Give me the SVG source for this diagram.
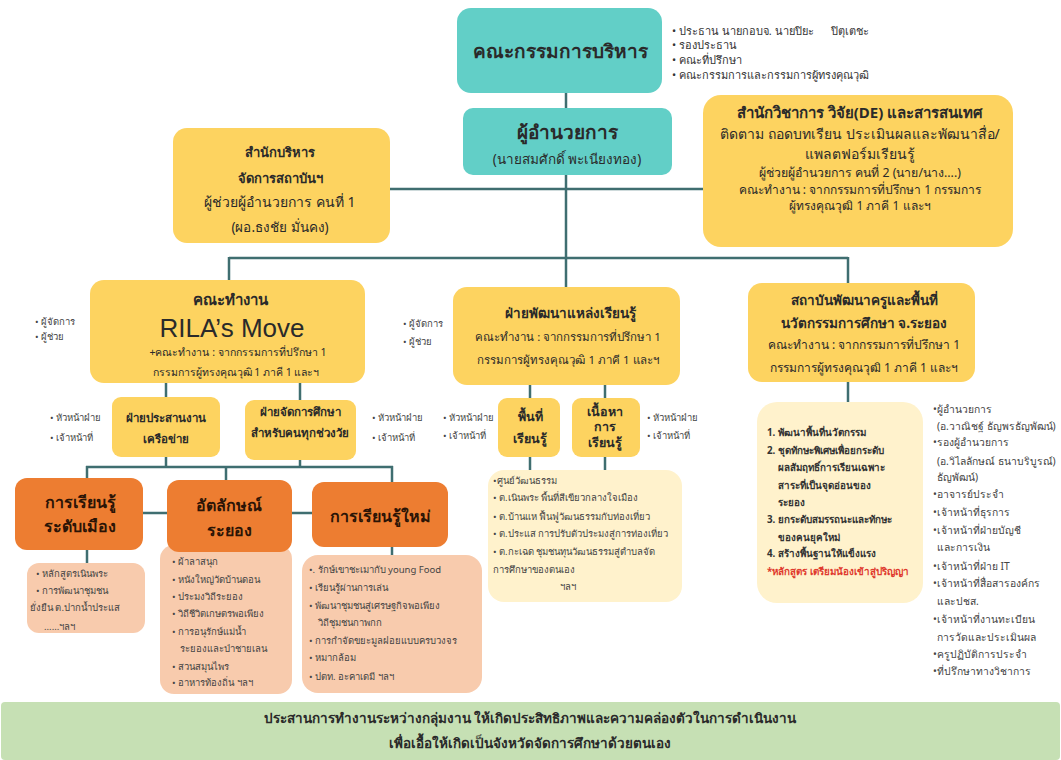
<svg xmlns="http://www.w3.org/2000/svg" width="1061" height="760" viewBox="0 0 1061 760">
<style>
text{font-family:"Noto Sans","DejaVu Sans",sans-serif;fill:#2a2a2a}
.c{text-anchor:middle}
.b{font-weight:bold}
.teal{fill:#62cfc7}
.yel{fill:#fdd360}
.org{fill:#ed7d31}
.peach{fill:#f8cbad}
.cream{fill:#fff2cc}
.sm{font-size:9.5px;fill:#444}
.st{font-size:10.3px;fill:#444}
.bl{font-size:11px;fill:#333}
.pl{font-size:9.8px;font-weight:bold;fill:#333}
.ot{font-size:16px;font-weight:bold;fill:#2b1406}
.red{fill:#e03a2e}
#connectors line{stroke:#3f6e70;stroke-width:2.5}
</style>
<rect width="1061" height="760" fill="#ffffff"/>
<g id="connectors">
<line x1="566" y1="92" x2="566" y2="109"/>
<line x1="566" y1="174" x2="566" y2="258"/>
<line x1="389" y1="189" x2="704" y2="189"/>
<line x1="229" y1="258" x2="848" y2="258"/>
<line x1="229" y1="257" x2="229" y2="281"/>
<line x1="566" y1="257" x2="566" y2="288"/>
<line x1="848" y1="257" x2="848" y2="284"/>
<line x1="166" y1="382" x2="166" y2="398"/>
<line x1="300" y1="382" x2="300" y2="401"/>
<line x1="530" y1="384" x2="530" y2="399"/>
<line x1="605" y1="384" x2="605" y2="399"/>
<line x1="848" y1="381" x2="848" y2="403"/>
<line x1="166" y1="456" x2="166" y2="467"/>
<line x1="300" y1="459" x2="300" y2="467"/>
<line x1="86" y1="467" x2="393" y2="467"/>
<line x1="87" y1="466" x2="87" y2="480"/>
<line x1="226" y1="466" x2="226" y2="482"/>
<line x1="392" y1="466" x2="392" y2="483"/>
<line x1="140" y1="513" x2="315" y2="513"/>
<line x1="87" y1="548" x2="87" y2="565"/>
<line x1="226" y1="550" x2="226" y2="556"/>
<line x1="392" y1="546" x2="392" y2="557"/>
<line x1="530" y1="456" x2="530" y2="472"/>
<line x1="605" y1="456" x2="605" y2="472"/>
</g>

<g id="board">
<rect class="teal" x="457" y="8" width="205" height="85" rx="14"/>
<text class="c b" x="560" y="58" font-size="19">คณะกรรมการบริหาร</text>
<text x="672" y="35" class="bl">• ประธาน นายกอบจ. นายปิยะ&#160;&#160;&#160;&#160;&#160;&#160;ปิตุเตชะ</text>
<text x="672" y="49" class="bl">• รองประธาน</text>
<text x="672" y="64" class="bl">• คณะที่ปรึกษา</text>
<text x="672" y="79" class="bl">• คณะกรรมการและกรรมการผู้ทรงคุณวุฒิ</text>
</g>

<g id="director">
<rect class="teal" x="463" y="108" width="209" height="67" rx="10"/>
<text class="c b" x="567" y="139" font-size="19">ผู้อำนวยการ</text>
<text class="c" x="567" y="164" font-size="13.5">(นายสมศักดิ์ พะเนียงทอง)</text>
</g>

<g id="admin-office">
<rect class="yel" x="173" y="128" width="217" height="115" rx="14"/>
<text class="c b" x="280" y="157" font-size="13">สำนักบริหาร</text>
<text class="c b" x="280" y="183" font-size="13">จัดการสถาบันฯ</text>
<text class="c" x="280" y="207" font-size="14">ผู้ช่วยผู้อำนวยการ คนที่ 1</text>
<text class="c" x="280" y="232" font-size="13.5">(ผอ.ธงชัย มั่นคง)</text>
</g>

<g id="academic-office">
<rect class="yel" x="703" y="95" width="310" height="152" rx="18"/>
<text class="c b" x="860" y="118" font-size="15">สำนักวิชาการ วิจัย(DE) และสารสนเทศ</text>
<text class="c" x="860" y="139" font-size="14">ติดตาม ถอดบทเรียน ประเมินผลและพัฒนาสื่อ/</text>
<text class="c" x="860" y="159" font-size="14">แพลตฟอร์มเรียนรู้</text>
<text class="c" x="860" y="177" font-size="12.3">ผู้ช่วยผู้อำนวยการ คนที่ 2 (นาย/นาง....)</text>
<text class="c" x="860" y="194" font-size="12">คณะทำงาน : จากกรรมการที่ปรึกษา 1 กรรมการ</text>
<text class="c" x="860" y="210" font-size="12">ผู้ทรงคุณวุฒิ 1 ภาคี 1 และฯ</text>
</g>

<g id="rila">
<rect class="yel" x="90" y="280" width="275" height="103" rx="14"/>
<text class="c b" x="230" y="305" font-size="15">คณะทำงาน</text>
<text class="c" x="232" y="337" font-size="26" style="font-family:'Liberation Sans',Arial,sans-serif">RILA’s Move</text>
<text class="c" x="238" y="356" font-size="10.5">+คณะทำงาน : จากกรรมการที่ปรึกษา 1</text>
<text class="c" x="236" y="376" font-size="10.5">กรรมการผู้ทรงคุณวุฒิ 1 ภาคี 1 และฯ</text>
<text class="sm" x="35" y="325">• ผู้จัดการ</text>
<text class="sm" x="35" y="340">• ผู้ช่วย</text>
</g>

<g id="learning-source">
<rect class="yel" x="453" y="287" width="227" height="98" rx="14"/>
<text class="c b" x="570" y="318" font-size="13.5">ฝ่ายพัฒนาแหล่งเรียนรู้</text>
<text class="c" x="568" y="341" font-size="11.5">คณะทำงาน : จากกรรมการที่ปรึกษา 1</text>
<text class="c" x="568" y="364" font-size="11.5">กรรมการผู้ทรงคุณวุฒิ 1 ภาคี 1 และฯ</text>
<text class="sm" x="403" y="327">• ผู้จัดการ</text>
<text class="sm" x="403" y="345">• ผู้ช่วย</text>
</g>

<g id="institute">
<rect class="yel" x="748" y="283" width="227" height="99" rx="14"/>
<text class="c b" x="864" y="305" font-size="13.5">สถาบันพัฒนาครูและพื้นที่</text>
<text class="c b" x="864" y="328" font-size="13.5">นวัตกรรมการศึกษา จ.ระยอง</text>
<text class="c" x="864" y="349" font-size="12">คณะทำงาน : จากกรรมการที่ปรึกษา 1</text>
<text class="c" x="864" y="372" font-size="12">กรรมการผู้ทรงคุณวุฒิ 1 ภาคี 1 และฯ</text>
</g>

<g id="network">
<rect class="yel" x="112" y="397" width="108" height="60" rx="9"/>
<text class="c b" x="166" y="422" font-size="11.5">ฝ่ายประสานงาน</text>
<text class="c b" x="166" y="443" font-size="11.5">เครือข่าย</text>
<text class="sm" x="50" y="421">• หัวหน้าฝ่าย</text>
<text class="sm" x="50" y="441">• เจ้าหน้าที่</text>
</g>

<g id="education">
<rect class="yel" x="245" y="400" width="111" height="60" rx="9"/>
<text class="c b" x="300" y="416" font-size="11.5">ฝ่ายจัดการศึกษา</text>
<text class="c b" x="300" y="437" font-size="11.5">สำหรับคนทุกช่วงวัย</text>
<text class="sm" x="372" y="421">• หัวหน้าฝ่าย</text>
<text class="sm" x="372" y="441">• เจ้าหน้าที่</text>
</g>

<g id="area">
<rect class="yel" x="498" y="398" width="62" height="59" rx="9"/>
<text class="c b" x="530" y="421" font-size="12.5">พื้นที่</text>
<text class="c b" x="530" y="443" font-size="12.5">เรียนรู้</text>
<text class="sm" x="443" y="421">• หัวหน้าฝ่าย</text>
<text class="sm" x="443" y="439">• เจ้าหน้าที่</text>
</g>

<g id="content">
<rect class="yel" x="572" y="398" width="68" height="59" rx="9"/>
<text class="c b" x="605" y="416" font-size="12.5">เนื้อหา</text>
<text class="c b" x="605" y="431" font-size="12.5">การ</text>
<text class="c b" x="605" y="447" font-size="12.5">เรียนรู้</text>
<text class="sm" x="647" y="421">• หัวหน้าฝ่าย</text>
<text class="sm" x="647" y="439">• เจ้าหน้าที่</text>
</g>

<g id="city-learning">
<rect class="peach" x="27" y="563" width="118" height="70" rx="12"/>
<rect class="org" x="15" y="478" width="128" height="72" rx="12"/>
<text class="c ot" x="80" y="508">การเรียนรู้</text>
<text class="c ot" x="80" y="532">ระดับเมือง</text>
<text class="sm" x="36" y="577">• หลักสูตรเนินพระ</text>
<text class="sm" x="36" y="594">• การพัฒนาชุมชน</text>
<text class="sm" x="30" y="611">ยั่งยืน ต.ปากน้ำประแส</text>
<text class="sm" x="44" y="630">......ฯลฯ</text>
</g>

<g id="identity">
<rect class="peach" x="160" y="545" width="132" height="149" rx="14"/>
<rect class="org" x="167" y="480" width="125" height="72" rx="12"/>
<text class="c ot" x="229" y="511">อัตลักษณ์</text>
<text class="c ot" x="229" y="536">ระยอง</text>
<text class="sm" x="172" y="565">• ผ้าลาสนุก</text>
<text class="sm" x="172" y="583">• หนังใหญ่วัดบ้านดอน</text>
<text class="sm" x="172" y="600">• ประมงวิถีระยอง</text>
<text class="sm" x="172" y="617">• วิถีชีวิตเกษตรพอเพียง</text>
<text class="sm" x="172" y="635">• การอนุรักษ์แม่น้ำ</text>
<text class="sm" x="180" y="652">ระยองและป่าชายเลน</text>
<text class="sm" x="172" y="670">• สวนสมุนไพร</text>
<text class="sm" x="172" y="686">• อาหารท้องถิ่น ฯลฯ</text>
</g>

<g id="new-learning">
<rect class="org" x="312" y="482" width="136" height="65" rx="12"/>
<text class="c ot" x="380" y="522" font-size="15">การเรียนรู้ใหม่</text>
<rect class="peach" x="302" y="555" width="180" height="138" rx="16"/>
<text class="sm" x="309" y="573">•. รักษ์เขาชะเมากับ young Food</text>
<text class="sm" x="309" y="591">• เรียนรู้ผ่านการเล่น</text>
<text class="sm" x="309" y="609">• พัฒนาชุมชนสู่เศรษฐกิจพอเพียง</text>
<text class="sm" x="318" y="626">วิถีชุมชนกาพกก</text>
<text class="sm" x="309" y="644">• การกำจัดขยะมูลฝอยแบบครบวงจร</text>
<text class="sm" x="309" y="661">• หมากล้อม</text>
<text class="sm" x="309" y="680">• ปตท. อะคาเดมี ฯลฯ</text>
</g>

<g id="learning-sources-list">
<rect class="cream" x="488" y="470" width="194" height="132" rx="16"/>
<text class="sm" x="493" y="484">•ศูนย์วัฒนธรรม</text>
<text class="sm" x="493" y="501">• ต.เนินพระ พื้นที่สีเขียวกลางใจเมือง</text>
<text class="sm" x="493" y="520">• ต.บ้านแห ฟื้นฟูวัฒนธรรมกับท่องเที่ยว</text>
<text class="sm" x="493" y="537">• ต.ประแส การปรับตัวประมงสู่การท่องเที่ยว</text>
<text class="sm" x="493" y="555">• ต.กะเฉด ชุมชนทุนวัฒนธรรมสู่ตำบลจัด</text>
<text class="sm" x="493" y="573">การศึกษาของตนเอง</text>
<text class="sm" x="560" y="590">ฯลฯ</text>
</g>

<g id="institute-plan">
<rect class="cream" x="757" y="402" width="166" height="201" rx="20"/>
<text x="767" y="436" class="pl">1. พัฒนาพื้นที่นวัตกรรม</text>
<text x="767" y="454" class="pl">2. ชุดทักษะพิเศษเพื่อยกระดับ</text>
<text x="778" y="471" class="pl">ผลสัมฤทธิ์การเรียนเฉพาะ</text>
<text x="778" y="489" class="pl">สาระที่เป็นจุดอ่อนของ</text>
<text x="778" y="506" class="pl">ระยอง</text>
<text x="767" y="523" class="pl">3. ยกระดับสมรรถนะและทักษะ</text>
<text x="778" y="541" class="pl">ของคนยุคใหม่</text>
<text x="767" y="557" class="pl">4. สร้างพื้นฐานให้แข็งแรง</text>
<text x="767" y="575" class="pl red" font-size="10.3">*หลักสูตร เตรียมน้องเข้าสู่ปริญญา</text>
</g>

<g id="institute-staff">
<text class="st" x="933" y="413">•ผู้อำนวยการ</text>
<text class="st" x="937" y="430">(อ.วาณิชฐ์ ธัญพรธัญพัฒน์)</text>
<text class="st" x="933" y="446">•รองผู้อำนวยการ</text>
<text class="st" x="937" y="465">(อ.วิไลลักษณ์ ธนาบริบูรณ์)</text>
<text class="st" x="937" y="481">ธัญพัฒน์)</text>
<text class="st" x="933" y="498">•อาจารย์ประจำ</text>
<text class="st" x="933" y="516">•เจ้าหน้าที่ธุรการ</text>
<text class="st" x="933" y="534">•เจ้าหน้าที่ฝ่ายบัญชี</text>
<text class="st" x="937" y="551">และการเงิน</text>
<text class="st" x="933" y="570">•เจ้าหน้าที่ฝ่าย IT</text>
<text class="st" x="933" y="587">•เจ้าหน้าที่สื่อสารองค์กร</text>
<text class="st" x="937" y="605">และปชส.</text>
<text class="st" x="933" y="623">•เจ้าหน้าที่งานทะเบียน</text>
<text class="st" x="937" y="641">การวัดและประเมินผล</text>
<text class="st" x="933" y="658">•ครูปฏิบัติการประจำ</text>
<text class="st" x="933" y="675">•ที่ปรึกษาทางวิชาการ</text>
</g>

<g id="banner">
<rect x="1" y="702" width="1059" height="58" rx="4" fill="#c6e0b4"/>
<text class="c" x="530" y="723" font-size="13.5" font-weight="bold" fill="#1e1e1e">ประสานการทำงานระหว่างกลุ่มงาน ให้เกิดประสิทธิภาพและความคล่องตัวในการดำเนินงาน</text>
<text class="c" x="530" y="748" font-size="13.5" font-weight="bold" fill="#1e1e1e">เพื่อเอื้อให้เกิดเป็นจังหวัดจัดการศึกษาด้วยตนเอง</text>
</g>
</svg>
